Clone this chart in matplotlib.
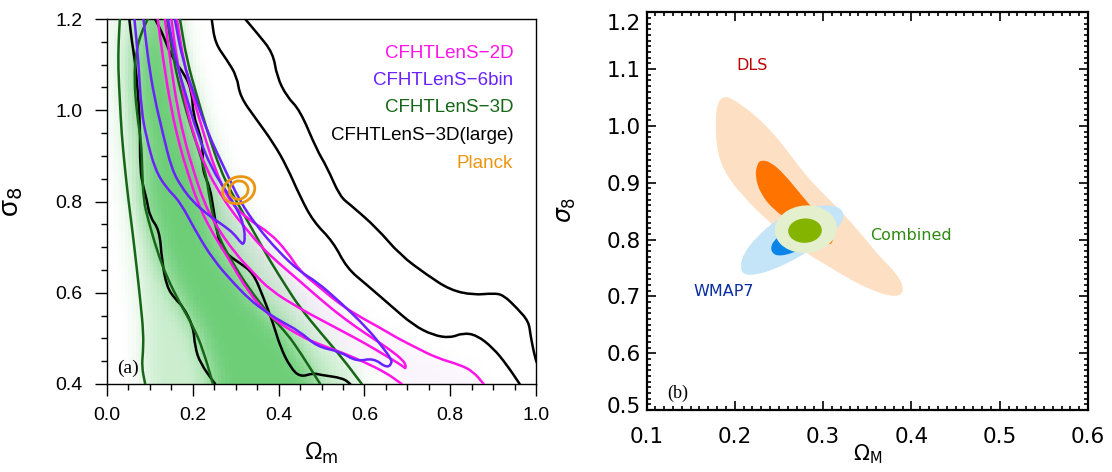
import numpy as np
import matplotlib
matplotlib.use("Agg")
import matplotlib.pyplot as plt
from matplotlib.path import Path
from matplotlib.patches import Ellipse, PathPatch
from matplotlib.ticker import MultipleLocator
import matplotlib.transforms as mtrans

# ---------------- Panel (a): CFHTLenS contours (Omega_m, sigma_8) ----------------
g3d_out_left = [(0.030, 1.20), (0.027, 1.15), (0.026, 1.095), (0.030, 1.02), (0.034, 0.95), (0.042, 0.87),
                (0.050, 0.803), (0.060, 0.73), (0.069, 0.657), (0.078, 0.58), (0.085, 0.511), (0.084, 0.47),
                (0.081, 0.438), (0.089, 0.40)]
g3d_out_right = [(0.170, 1.20), (0.186, 1.11), (0.210, 1.03), (0.235, 0.95), (0.264, 0.87), (0.290, 0.82),
                 (0.320, 0.77), (0.350, 0.72), (0.380, 0.67), (0.420, 0.61), (0.450, 0.567), (0.500, 0.51),
                 (0.550, 0.455), (0.594, 0.40)]
g3d_in_left = [(0.095, 1.20), (0.080, 1.17), (0.068, 1.13), (0.063, 1.07), (0.070, 0.99), (0.080, 0.93),
               (0.082, 0.87), (0.085, 0.803), (0.096, 0.76), (0.116, 0.694), (0.139, 0.635), (0.170, 0.577),
               (0.201, 0.526), (0.224, 0.475), (0.247, 0.40)]
g3d_in_right = [(0.140, 1.20), (0.155, 1.11), (0.175, 1.03), (0.200, 0.95), (0.229, 0.87), (0.240, 0.80),
                (0.256, 0.73), (0.290, 0.67), (0.330, 0.61), (0.380, 0.55), (0.420, 0.51), (0.450, 0.47),
                (0.497, 0.40)]

large_out_right = [(0.322, 1.20), (0.349, 1.170), (0.387, 1.126), (0.396, 1.074), (0.419, 1.030), (0.450, 1.00),
                   (0.489, 0.913), (0.512, 0.877), (0.543, 0.811), (0.567, 0.793), (0.629, 0.742), (0.683, 0.683),
                   (0.746, 0.639), (0.800, 0.606), (0.854, 0.595), (0.901, 0.599), (0.924, 0.595), (0.956, 0.566),
                   (0.983, 0.537), (0.987, 0.507), (0.998, 0.456), (1.005, 0.44)]
large_in_right = [(0.244, 1.20), (0.252, 1.147), (0.279, 1.111), (0.303, 1.074), (0.310, 1.030), (0.349, 0.979),
                  (0.388, 0.928), (0.419, 0.877), (0.450, 0.811), (0.481, 0.756), (0.527, 0.712), (0.559, 0.654),
                  (0.606, 0.617), (0.660, 0.573), (0.714, 0.529), (0.760, 0.507), (0.800, 0.501), (0.830, 0.512),
                  (0.862, 0.507), (0.900, 0.479), (0.932, 0.442), (0.962, 0.40)]
large_left = [(0.052, 1.20), (0.058, 1.15), (0.065, 1.11), (0.072, 1.04), (0.077, 0.968), (0.077, 0.87),
              (0.085, 0.83), (0.093, 0.803), (0.100, 0.766), (0.122, 0.738), (0.128, 0.672), (0.139, 0.613),
              (0.160, 0.585), (0.177, 0.570), (0.201, 0.526), (0.205, 0.482), (0.217, 0.446), (0.252, 0.40)]
large_mid = [(0.112, 1.20), (0.131, 1.165), (0.151, 1.115), (0.182, 1.078), (0.198, 1.040), (0.201, 0.990),
             (0.217, 0.946), (0.224, 0.913), (0.222, 0.87), (0.240, 0.83), (0.247, 0.790), (0.256, 0.738),
             (0.264, 0.700), (0.287, 0.679), (0.310, 0.665), (0.341, 0.643), (0.364, 0.591), (0.387, 0.534),
             (0.404, 0.481), (0.427, 0.437), (0.450, 0.415), (0.481, 0.424), (0.497, 0.420), (0.550, 0.413),
             (0.567, 0.40)]

m2d_out_lower = [(0.118, 1.20), (0.131, 1.11), (0.150, 1.00), (0.170, 0.92), (0.186, 0.87), (0.210, 0.80),
                 (0.240, 0.74), (0.280, 0.68), (0.330, 0.60), (0.380, 0.547), (0.450, 0.505), (0.500, 0.485),
                 (0.550, 0.468), (0.600, 0.448), (0.650, 0.425), (0.687, 0.40)]
m2d_in_lower = [(0.135, 1.20), (0.147, 1.11), (0.165, 1.00), (0.185, 0.92), (0.201, 0.87), (0.225, 0.80),
                (0.255, 0.745), (0.300, 0.685), (0.340, 0.645), (0.380, 0.606), (0.450, 0.565), (0.500, 0.54),
                (0.550, 0.515), (0.600, 0.49), (0.650, 0.462), (0.680, 0.445), (0.695, 0.435)]
m2d_in_upper = [(0.150, 1.20), (0.163, 1.11), (0.180, 1.03), (0.200, 0.95), (0.232, 0.87), (0.262, 0.82),
                (0.290, 0.78), (0.320, 0.745), (0.360, 0.70), (0.400, 0.665), (0.450, 0.625), (0.480, 0.60),
                (0.530, 0.56), (0.580, 0.525), (0.620, 0.50), (0.660, 0.475), (0.690, 0.452), (0.697, 0.44),
                (0.695, 0.435)]
m2d_out_upper = [(0.163, 1.20), (0.178, 1.11), (0.200, 1.03), (0.225, 0.95), (0.252, 0.87), (0.285, 0.80),
                 (0.330, 0.76), (0.380, 0.731), (0.420, 0.69), (0.450, 0.647), (0.489, 0.617), (0.536, 0.580),
                 (0.582, 0.551), (0.637, 0.523), (0.676, 0.501), (0.722, 0.479), (0.769, 0.457), (0.823, 0.442),
                 (0.854, 0.427), (0.878, 0.40)]

p6_out_left = [(0.064, 1.20), (0.073, 1.11), (0.080, 1.00), (0.092, 0.94), (0.112, 0.87), (0.138, 0.83),
               (0.170, 0.80), (0.209, 0.731), (0.248, 0.672), (0.295, 0.621), (0.334, 0.584), (0.365, 0.562),
               (0.400, 0.54), (0.450, 0.515), (0.489, 0.482), (0.543, 0.471), (0.582, 0.449), (0.621, 0.457),
               (0.652, 0.435), (0.664, 0.445)]
p6_out_right = [(0.158, 1.20), (0.176, 1.11), (0.205, 1.03), (0.235, 0.95), (0.275, 0.87), (0.310, 0.80),
                (0.350, 0.745), (0.400, 0.69), (0.450, 0.646), (0.489, 0.624), (0.543, 0.580), (0.606, 0.523),
                (0.644, 0.479), (0.662, 0.455), (0.664, 0.445)]
p6_in_left = [(0.085, 1.20), (0.096, 1.11), (0.110, 1.03), (0.130, 0.95), (0.151, 0.87), (0.175, 0.83),
              (0.200, 0.80), (0.230, 0.775), (0.255, 0.758), (0.275, 0.745), (0.295, 0.73), (0.310, 0.712),
              (0.318, 0.705)]
p6_in_right = [(0.142, 1.20), (0.160, 1.11), (0.185, 1.03), (0.210, 0.95), (0.245, 0.87), (0.280, 0.82),
               (0.305, 0.78), (0.318, 0.75), (0.322, 0.72), (0.318, 0.705)]

planck_center = (0.307, 0.825)
planck_outer_size = (0.076, 0.058)
planck_inner_size = (0.044, 0.040)

legend_labels = ["CFHTLenS\u22122D", "CFHTLenS\u22126bin", "CFHTLenS\u22123D", "CFHTLenS\u22123D(large)", "Planck"]

# ---------------- Panel (b): DLS / WMAP7 / Combined ----------------
dls_outer = [(0.187, 1.052), (0.196, 1.049), (0.210, 1.034), (0.225, 1.016), (0.240, 0.993), (0.259, 0.958),
             (0.278, 0.917), (0.300, 0.881), (0.319, 0.852), (0.334, 0.826), (0.349, 0.799), (0.364, 0.770),
             (0.383, 0.741), (0.391, 0.717), (0.389, 0.702), (0.376, 0.700), (0.355, 0.711), (0.330, 0.730),
             (0.304, 0.755), (0.281, 0.776), (0.259, 0.805), (0.236, 0.835), (0.213, 0.870), (0.191, 0.911),
             (0.180, 0.952), (0.178, 1.005), (0.180, 1.040)]
dls_inner = [(0.229, 0.940), (0.240, 0.937), (0.255, 0.917), (0.274, 0.881), (0.293, 0.846), (0.308, 0.817),
             (0.312, 0.796), (0.306, 0.790), (0.293, 0.799), (0.266, 0.829), (0.244, 0.852), (0.229, 0.881),
             (0.223, 0.911), (0.225, 0.931)]
wmap_outer = [(0.206, 0.752), (0.210, 0.776), (0.225, 0.805), (0.247, 0.835), (0.274, 0.855), (0.300, 0.861),
              (0.319, 0.858), (0.325, 0.840), (0.315, 0.817), (0.296, 0.793), (0.274, 0.770), (0.247, 0.749),
              (0.225, 0.738), (0.210, 0.738)]
wmap_inner = [(0.240, 0.782), (0.244, 0.799), (0.255, 0.811), (0.274, 0.817), (0.289, 0.811), (0.281, 0.788),
              (0.266, 0.776), (0.247, 0.770)]
combined_outer_center = (0.2804, 0.8183)
combined_outer_size = (0.070, 0.084)
combined_inner_center = (0.2795, 0.8157)
combined_inner_size = (0.038, 0.043)

a_xticks = [0.0, 0.2, 0.4, 0.6, 0.8, 1.0]
a_yticks = [0.4, 0.6, 0.8, 1.0, 1.2]
b_xticks = [0.1, 0.2, 0.3, 0.4, 0.5, 0.6]
b_yticks = [0.5, 0.6, 0.7, 0.8, 0.9, 1.0, 1.1, 1.2]

# ---------------- styles ----------------
C_MAG = "#ff14e8"
C_PUR = "#6a22ff"
C_GRN = "#176617"
C_BLK = "#000000"
C_ORG = "#eb9612"
SANS = "Liberation Sans"


def arr(p):
    return np.asarray(p, dtype=float)


def smooth_path(pts, closed=False):
    """Path whose corners are rounded with quadratic Bezier segments (traced points as control points)."""
    P = arr(pts)
    n = len(P)
    if closed:
        mids = (P + np.roll(P, -1, axis=0)) / 2
        verts = [mids[-1]]
        codes = [Path.MOVETO]
        for i in range(n):
            verts += [P[i], mids[i]]
            codes += [Path.CURVE3, Path.CURVE3]
        verts.append(mids[-1])
        codes.append(Path.CLOSEPOLY)
    else:
        mids = (P[:-1] + P[1:]) / 2
        verts = [P[0], mids[0]]
        codes = [Path.MOVETO, Path.LINETO]
        for i in range(1, n - 1):
            verts += [P[i], mids[i]]
            codes += [Path.CURVE3, Path.CURVE3]
        verts.append(P[-1])
        codes.append(Path.LINETO)
    return Path(np.asarray(verts), codes)


def draw_line(ax, pts, color, lw, z):
    ax.add_patch(PathPatch(smooth_path(pts), fill=False, ec=color, lw=lw, zorder=z,
                           capstyle="round", joinstyle="round"))


def region(left, right, X, Y):
    poly = np.vstack([arr(left), arr(right)[::-1]])
    inside = Path(poly).contains_points(np.column_stack([X.ravel(), Y.ravel()]))
    return inside.reshape(X.shape).astype(float)


def soften(a, k=5, passes=2):
    ker = np.ones(k) / k
    h = k // 2
    for _ in range(passes):
        p = np.pad(a, ((0, 0), (h, h)), mode="edge")
        a = np.apply_along_axis(lambda r: np.convolve(r, ker, mode="valid"), 1, p)
        p = np.pad(a, ((h, h), (0, 0)), mode="edge")
        a = np.apply_along_axis(lambda c: np.convolve(c, ker, mode="valid"), 0, p)
    return a


fig = plt.figure(figsize=(11.12, 4.72), dpi=100)
axa = fig.add_axes([107 / 1112, 88 / 472, 429 / 1112, 365 / 472])
axb = fig.add_axes([646.5 / 1112, 62 / 472, 441.5 / 1112, 397.7 / 472])

# ---- panel (a) shading ----
nx, ny = 120, 100
xs = (np.arange(nx) + 0.5) / nx
ys = 0.4 + 0.8 * (np.arange(ny) + 0.5) / ny
X, Y = np.meshgrid(xs, ys)

pink = 0.6 * region(m2d_out_lower, m2d_out_upper, X, Y) + 0.4 * region(m2d_in_lower, m2d_in_upper, X, Y)
pink = soften(pink, 5, 2)
img_p = np.zeros((ny, nx, 4))
img_p[..., 0], img_p[..., 1], img_p[..., 2] = 0.88, 0.70, 0.95
img_p[..., 3] = 0.22 * pink
axa.imshow(img_p, extent=[0, 1, 0.4, 1.2], origin="lower", aspect="auto", interpolation="nearest", zorder=0)

green = 0.30 * region(g3d_out_left, g3d_out_right, X, Y) + 0.55 * region(g3d_in_left, g3d_in_right, X, Y)
green = soften(green, 7, 2)
img_g = np.zeros((ny, nx, 4))
img_g[..., 0], img_g[..., 1], img_g[..., 2] = 0.33, 0.78, 0.38
img_g[..., 3] = np.clip(green / 0.85, 0, 1) * 0.85
axa.imshow(img_g, extent=[0, 1, 0.4, 1.2], origin="lower", aspect="auto", interpolation="nearest", zorder=1)

# ---- panel (a) contour lines ----
LW = 1.8
for line in (large_out_right, large_in_right, large_left, large_mid):
    draw_line(axa, line, C_BLK, LW, 3)
for line in (g3d_out_left, g3d_out_right, g3d_in_left, g3d_in_right):
    draw_line(axa, line, C_GRN, LW, 4)
for line in (m2d_out_lower, m2d_out_upper, m2d_in_lower, m2d_in_upper):
    draw_line(axa, line, C_MAG, LW, 5)
for a, b in ((p6_out_left, p6_out_right), (p6_in_left, p6_in_right)):
    draw_line(axa, np.vstack([arr(a), arr(b)[-2::-1]]), C_PUR, LW, 6)

for size in (planck_outer_size, planck_inner_size):
    axa.add_patch(Ellipse(planck_center, size[0], size[1], angle=15, fill=False,
                          ec=C_ORG, lw=2.0, zorder=7))

leg_colors = [C_MAG, C_PUR, C_GRN, C_BLK, C_ORG]
leg_y = [1.125, 1.065, 1.005, 0.944, 0.884]
for lab, col, yy in zip(legend_labels, leg_colors, leg_y):
    axa.text(0.947, yy, lab, color=col, ha="right", va="center", fontsize=13.5, family=SANS, zorder=8)

axa.text(0.048, 0.435, "(a)", fontsize=14, family="Liberation Serif", ha="center", va="center", zorder=8)

axa.set_xlim(0, 1.0)
axa.set_ylim(0.4, 1.2)
axa.set_xticks(a_xticks)
axa.set_yticks(a_yticks)
axa.set_xticklabels([f"{v:.1f}" for v in a_xticks], family=SANS, fontsize=14)
axa.set_yticklabels([f"{v:.1f}" for v in a_yticks], family=SANS, fontsize=14)
axa.xaxis.set_minor_locator(MultipleLocator(0.05))
axa.yaxis.set_minor_locator(MultipleLocator(0.05))
axa.tick_params(which="major", direction="out", length=8.5, width=1.0, pad=8)
axa.tick_params(which="minor", direction="out", length=4.3, width=1.0)
axa.tick_params(axis="y", which="major", pad=9)
for s in axa.spines.values():
    s.set_linewidth(1.0)
axa.set_ylabel("\u03c3$_8$", fontsize=20, family=SANS)
axa.yaxis.set_label_coords(-0.19, 0.50)
axa.set_xlabel("\u03a9$_\\mathrm{m}$", fontsize=17, family=SANS)
axa.xaxis.set_label_coords(0.5, -0.155)

# ---- panel (b) ----
axb.add_patch(PathPatch(smooth_path(dls_outer, True), fc="#fde0c4", ec="none", zorder=1))
axb.add_patch(PathPatch(smooth_path(wmap_outer, True), fc="#c4e4f8", ec="none", zorder=2))
axb.add_patch(PathPatch(smooth_path(dls_inner, True), fc="#ff7300", ec="none", zorder=3))
axb.add_patch(PathPatch(smooth_path(wmap_inner, True), fc="#0a84e8", ec="none", zorder=4))
axb.add_patch(Ellipse(combined_outer_center, *combined_outer_size, angle=-8, fc="#e4efcd", ec="none", zorder=5))
axb.add_patch(Ellipse(combined_inner_center, *combined_inner_size, angle=-8, fc="#84b400", ec="none", zorder=6))

axb.text(0.219, 1.107, "DLS", color="#c00000", fontsize=11.5, ha="center", va="center", family="DejaVu Sans")
axb.text(0.187, 0.708, "WMAP7", color="#0a2ea0", fontsize=11.5, ha="center", va="center", family="DejaVu Sans")
axb.text(0.400, 0.808, "Combined", color="#2e8a12", fontsize=11.5, ha="center", va="center", family="DejaVu Sans")
axb.text(0.135, 0.530, "(b)", fontsize=13, family="Liberation Serif", ha="center", va="center")

axb.set_xlim(0.1, 0.6)
axb.set_ylim(0.5, 1.2)
axb.set_xticks(b_xticks)
axb.set_yticks(b_yticks)
axb.set_xticklabels([f"{v:.1f}" for v in b_xticks], family="DejaVu Sans", fontsize=15.5)
axb.set_yticklabels([f"{v:.1f}" for v in b_yticks], family="DejaVu Sans", fontsize=15.5)
axb.xaxis.set_minor_locator(MultipleLocator(0.01))
axb.yaxis.set_minor_locator(MultipleLocator(0.01))
axb.tick_params(which="both", direction="in", top=True, right=True, width=1.2)
axb.tick_params(which="major", length=6.5)
axb.tick_params(which="minor", length=3.2)
axb.tick_params(axis="x", which="major", pad=12)
axb.tick_params(axis="y", which="major", pad=4)
for s in axb.spines.values():
    s.set_linewidth(1.6)
axb.set_ylabel(r"$\sigma_8$", fontsize=17)
axb.yaxis.set_label_coords(-0.155, 0.503)
axb.set_xlabel(r"$\Omega_{\rm M}$", fontsize=15)
axb.xaxis.set_label_coords(0.5, -0.082)

yt = axb.yaxis.get_major_ticks()
yt[-1].label1.set_transform(yt[-1].label1.get_transform() +
                            mtrans.ScaledTranslation(0, -7 / 72, fig.dpi_scale_trans))
yt[0].label1.set_transform(yt[0].label1.get_transform() +
                           mtrans.ScaledTranslation(0, 3.6 / 72, fig.dpi_scale_trans))

fig.savefig("out.png", dpi=100)
